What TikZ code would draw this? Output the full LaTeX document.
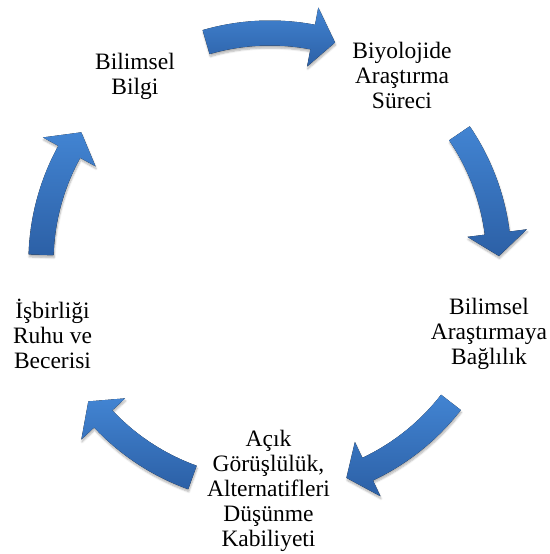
\documentclass[tikz,border=0pt]{standalone}
\usepackage{fontspec}
\setmainfont{Liberation Serif}
\usetikzlibrary{shadows.blur}
\definecolor{arrowlight}{RGB}{66,132,210}
\definecolor{arrowdark}{RGB}{44,96,166}
\tikzset{
    cyclearrow/.style={
        top color=arrowlight, bottom color=arrowdark, draw=none,
        blur shadow={shadow xshift=0.6pt, shadow yshift=-2.5pt, shadow blur steps=6, shadow opacity=30}
    },
    cycletext/.style={
        align=center, inner sep=0pt, font=\fontsize{23.5}{25}\selectfont
    }
}
% one curved block arrow of the cycle, tail at angle #1
\newcommand{\cyclearrow}[1]{%
    \pgfmathsetmacro{\astart}{#1}
    \pgfmathsetmacro{\aend}{#1-32.7}
    \pgfmathsetmacro{\ahead}{\aend+5.75}
    \pgfmathsetmacro{\rout}{\radius+\body}
    \pgfmathsetmacro{\rin}{\radius-\body}
    \pgfmathsetmacro{\hout}{\radius+\head}
    \pgfmathsetmacro{\hin}{\radius-\head}
    \fill[ cyclearrow ] ([shift={(\astart:\rout)}]c) arc[start angle=\astart, end angle=\ahead, radius=\rout]
        -- ([shift={(\ahead:\hout)}]c) -- ([shift={(\aend:\radius)}]c) -- ([shift={(\ahead:\hin)}]c)
        -- ([shift={(\ahead:\rin)}]c) arc[start angle=\ahead, end angle=\astart, radius=\rin] -- cycle;
}

\begin{document}
\begin{tikzpicture}[ x=1pt, y=1pt ]

    \useasboundingbox (0, 0) rectangle (549, 554);

    \def\radius{229}
    \def\body{12.5}
    \def\head{30}

    \coordinate (c) at (270, 292);

    \cyclearrow{106.2}
    \cyclearrow{34.2}
    \cyclearrow{-37.8}
    \cyclearrow{-109.8}
    \cyclearrow{-181.8}

    \node[ cycletext ] (bilgi) at (135, 478) {Bilimsel\\ Bilgi};
    \node[ cycletext ] (surec) at (402, 479) {Biyolojide\\ Araştırma\\ Süreci};
    \node[ cycletext ] (baglilik) at (489, 220) {Bilimsel\\ Araştırmaya\\ Bağlılık};
    \node[ cycletext ] (acik) at (268.5, 63) {Açık\\ Görüşlülük,\\ Alternatifleri\\ Düşünme\\ Kabiliyeti};
    \node[ cycletext ] (isbirligi) at (52.5, 220) {İşbirliği\\ Ruhu ve\\ Becerisi};

\end{tikzpicture}
\end{document}
